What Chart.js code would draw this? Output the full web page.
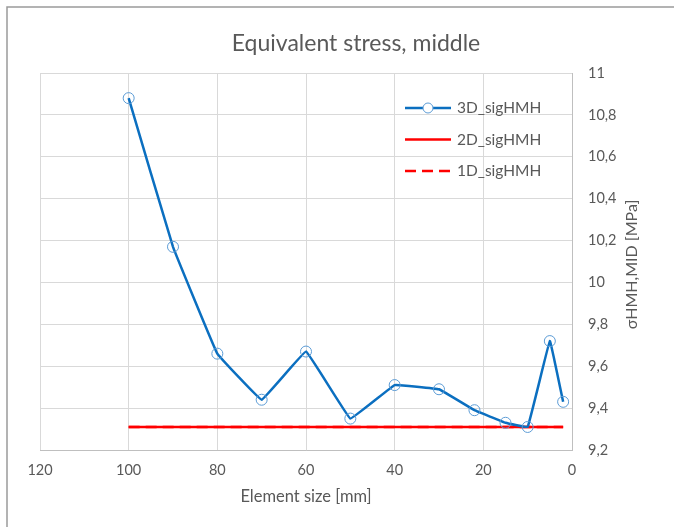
<!DOCTYPE html>
<html>
<head>
<meta charset="utf-8">
<script src="https://cdn.jsdelivr.net/npm/chart.js@4/dist/chart.umd.min.js"></script>
<style>
body{margin:0;background:#fff;}
#wrap{position:relative;width:674px;height:527px;}
</style>
</head>
<body>
<div id="wrap"><canvas id="c" width="674" height="527"></canvas></div>
<script>
// element size [mm]
var sizes3D = [100, 90, 80, 70, 60, 50, 40, 30, 22, 15, 10, 5, 2];
var sig3D = [10.88, 10.17, 9.66, 9.44, 9.67, 9.35, 9.51, 9.49, 9.39, 9.33, 9.31, 9.72, 9.43];
var sizes2D = [100, 2];
var sig2D = [9.31, 9.31];
var sizes1D = [100, 2];
var sig1D = [9.31, 9.31];
var xTicks = [0, 20, 40, 60, 80, 100, 120];
var yTicks = [9.2, 9.4, 9.6, 9.8, 10, 10.2, 10.4, 10.6, 10.8, 11];

var gray = '#595959';
var fontName = 'Lato, "Open Sans", sans-serif';

function pts(xs, ys){
    var out = [];
    for (var i = 0; i < xs.length; i++) out.push({x: xs[i], y: ys[i]});
    return out;
}

// title, axis titles, legend and frame drawn by hand
var decoPlugin = {
    id: 'deco',
    afterDraw: function(chart){
        var ctx = chart.ctx;
        var area = chart.chartArea;
        ctx.save();
        ctx.fillStyle = gray;
        ctx.textAlign = 'center';
        ctx.textBaseline = 'middle';
        ctx.font = '23px ' + fontName;
        ctx.fillText('Equivalent stress, middle', 356, 44);

        ctx.font = '16.5px ' + fontName;
        ctx.fillText('Element size [mm]', (area.left + area.right) / 2, 497);

        ctx.save();
        ctx.translate(632, (area.top + area.bottom) / 2 + 3);
        ctx.rotate(-Math.PI / 2);
        ctx.font = '16px ' + fontName;
        ctx.fillText('σHMH,MID [MPa]', 0, 0);
        ctx.restore();

        var items = chart.data.datasets;
        var x0 = 405, y0 = 108, gap = 31.5;
        ctx.textAlign = 'left';
        for (var i = 0; i < items.length; i++){
            var d = items[i];
            var y = y0 + i * gap;
            ctx.beginPath();
            ctx.strokeStyle = d.borderColor;
            ctx.lineWidth = d.borderWidth;
            ctx.setLineDash(d.borderDash || []);
            ctx.moveTo(x0, y);
            ctx.lineTo(x0 + 46, y);
            ctx.stroke();
            ctx.setLineDash([]);
            if (d.pointRadius > 0){
                ctx.beginPath();
                ctx.fillStyle = '#fff';
                ctx.strokeStyle = d.pointBorderColor;
                ctx.lineWidth = 1;
                ctx.arc(x0 + 23, y, 5, 0, Math.PI * 2);
                ctx.fill();
                ctx.stroke();
            }
            ctx.fillStyle = gray;
            ctx.font = '15.5px ' + fontName;
            ctx.fillText(d.label, x0 + 52, y);
        }

        ctx.beginPath();
        ctx.strokeStyle = '#9a9a9a';
        ctx.lineWidth = 1.5;
        ctx.moveTo(7, chart.height);
        ctx.lineTo(7, 7);
        ctx.lineTo(chart.width, 7);
        ctx.stroke();
        ctx.restore();
    }
};

new Chart(document.getElementById('c').getContext('2d'), {
    type: 'scatter',
    data: {
        datasets: [
            {
                label: '3D_sigHMH',
                data: pts(sizes3D, sig3D),
                showLine: true,
                borderColor: '#0b6fc0',
                borderWidth: 2.5,
                tension: 0.05,
                pointRadius: 5.5,
                pointBorderColor: '#5b9bd5',
                pointBorderWidth: 1,
                pointBackgroundColor: 'rgba(255,255,255,0)',
                order: 0
            },
            {
                label: '2D_sigHMH',
                data: pts(sizes2D, sig2D),
                showLine: true,
                borderColor: '#ff0000',
                borderWidth: 2.5,
                pointRadius: 0,
                order: 1
            },
            {
                label: '1D_sigHMH',
                data: pts(sizes1D, sig1D),
                showLine: true,
                borderColor: '#ff0000',
                borderWidth: 2.5,
                borderDash: [11, 6],
                pointRadius: 0,
                order: 2
            }
        ]
    },
    options: {
        responsive: false,
        animation: false,
        layout: {padding: {left: 40, right: 0, top: 73, bottom: 0}},
        plugins: {
            legend: {display: false},
            tooltip: {enabled: false},
            title: {display: false}
        },
        scales: {
            x: {
                type: 'linear',
                reverse: true,
                min: 0,
                max: 120,
                afterBuildTicks: function(axis){
                    axis.ticks = xTicks.map(function(v){ return {value: v}; });
                },
                afterFit: function(axis){ axis.height = 77; },
                grid: {color: '#d9d9d9', drawTicks: false},
                border: {color: '#bfbfbf'},
                ticks: {color: gray, font: {family: fontName, size: 14.5}, padding: 12}
            },
            y: {
                type: 'linear',
                position: 'right',
                min: 9.2,
                max: 11,
                afterBuildTicks: function(axis){
                    axis.ticks = yTicks.map(function(v){ return {value: v}; });
                },
                afterFit: function(axis){ axis.width = 102; },
                grid: {color: '#d9d9d9', drawTicks: false},
                border: {color: '#bfbfbf'},
                ticks: {
                    color: gray,
                    font: {family: fontName, size: 14.5},
                    padding: 16,
                    callback: function(v){
                        return String(Math.round(v * 10) / 10).replace('.', ',');
                    }
                }
            }
        }
    },
    plugins: [decoPlugin]
});
</script>
</body>
</html>
